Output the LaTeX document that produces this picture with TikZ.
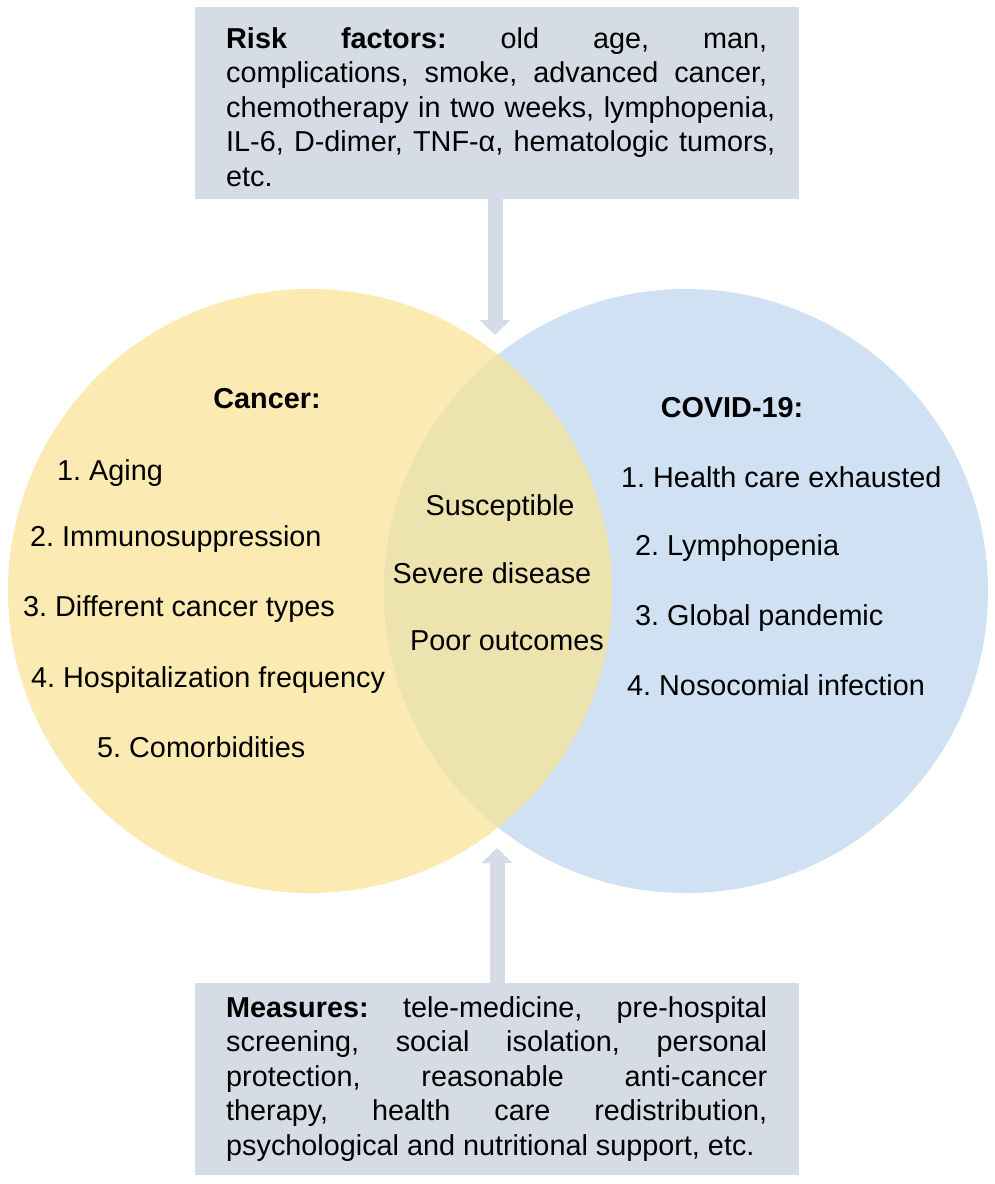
\documentclass[tikz,border=0pt]{standalone}
\usepackage{fontspec}
\setmainfont{Liberation Sans}
\usetikzlibrary{arrows.meta}
\definecolor{cyel}{RGB}{251,234,178}
\definecolor{cblu}{RGB}{207,225,242}
\definecolor{cmix}{RGB}{237,227,174}
\definecolor{cbox}{RGB}{214,220,229}
\newcommand\bodyfont{\fontsize{28.8}{34.5}\selectfont\frenchspacing}
\frenchspacing
\begin{document}
\begin{tikzpicture}[x=1pt,y=-1pt,
  txt/.style={inner sep=0pt, font=\bodyfont, text=black},
  boxsty/.style={fill=cbox, draw=none, minimum width=604pt, minimum height=192pt, inner sep=0pt},
  bigarrow/.style={draw=cbox, fill=cbox, line width=15pt, -{Triangle[width=30pt,length=15pt]}}]
\useasboundingbox (0,0) rectangle (994,1184);
\fill[white] (0,0) rectangle (994,1184);
% circles
\node[circle, fill=cyel, minimum size=604pt, inner sep=0pt] (cancer) at (310,591) {};
\node[circle, fill=cblu, minimum size=604pt, inner sep=0pt] (covid) at (686,591) {};
\begin{scope}
  \clip (310,591) circle[radius=302pt];
  \fill[cmix] (686,591) circle[radius=302pt];
\end{scope}
% boxes
\node[boxsty] (topbox) at (497,103) {};
\node[boxsty] (botbox) at (497,1079) {};
% arrows
\coordinate (toptip) at (495,335);
\coordinate (bottip) at (497,848);
\draw[bigarrow] (topbox.south -| toptip) -- (toptip);
\draw[bigarrow] (botbox.north -| bottip) -- (bottip);
% top box text
\node[txt, anchor=base west] (rf1) at (226,48) {\makebox[541pt][s]{\textbf{Risk factors:} old age, man,}};
\node[txt, anchor=base west] (rf2) at (226,82.5) {\makebox[541pt][s]{complications, smoke, advanced cancer,}};
\node[txt, anchor=base west] (rf3) at (226,117) {\makebox[549pt][s]{chemotherapy in two weeks, lymphopenia,}};
\node[txt, anchor=base west] (rf4) at (226,151.5) {\makebox[549pt][s]{IL-6, D-dimer, TNF-α, hematologic tumors,}};
\node[txt, anchor=base west] (rf5) at (226,186) {etc.};
% bottom box text
\node[txt, anchor=base west] (ms1) at (226,1017) {\makebox[541pt][s]{\textbf{Measures:} tele-medicine, pre-hospital}};
\node[txt, anchor=base west] (ms2) at (226,1051.5) {\makebox[541pt][s]{screening, social isolation, personal}};
\node[txt, anchor=base west] (ms3) at (226,1086) {\makebox[541pt][s]{protection, reasonable anti-cancer}};
\node[txt, anchor=base west] (ms4) at (226,1120.5) {\makebox[541pt][s]{therapy, health care redistribution,}};
\node[txt, anchor=base west] (ms5) at (226,1155) {psychological and nutritional support, etc.};
% cancer
\node[txt, anchor=base, font=\bodyfont\bfseries] (cantitle) at (267,408) {Cancer:};
\node[txt, anchor=base west] (c1) at (57,480) {1. Aging};
\node[txt, anchor=base west] (c2) at (30,546) {2. Immunosuppression};
\node[txt, anchor=base west] (c3) at (23,616) {3. Different cancer types};
\node[txt, anchor=base west] (c4) at (31,687) {4. Hospitalization frequency};
\node[txt, anchor=base west] (c5) at (97,757) {5. Comorbidities};
% middle
\node[txt, anchor=base] (m1) at (500,515) {Susceptible};
\node[txt, anchor=base] (m2) at (492,583) {Severe disease};
\node[txt, anchor=base] (m3) at (507,650) {Poor outcomes};
% covid
\node[txt, anchor=base, font=\bodyfont\bfseries] (covtitle) at (732,417) {COVID-19:};
\node[txt, anchor=base west] (v1) at (621,487) {1. Health care exhausted};
\node[txt, anchor=base west] (v2) at (635,555) {2. Lymphopenia};
\node[txt, anchor=base west] (v3) at (635,625) {3. Global pandemic};
\node[txt, anchor=base west] (v4) at (627,695) {4. Nosocomial infection};
\end{tikzpicture}
\end{document}
